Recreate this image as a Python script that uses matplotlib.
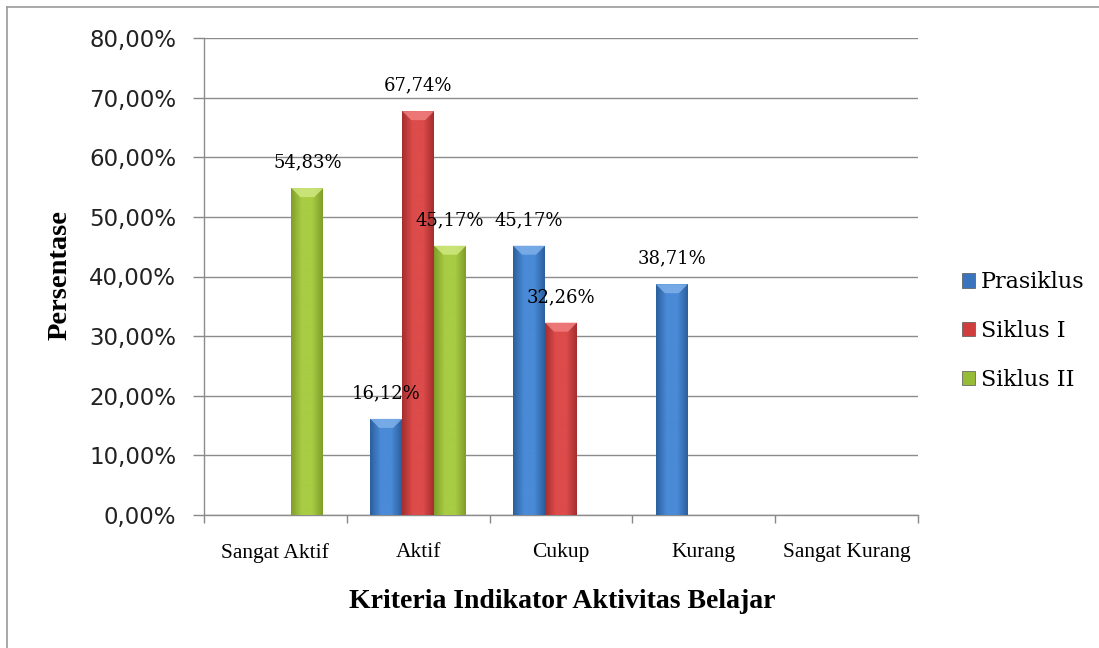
import numpy as np
import matplotlib
matplotlib.use("Agg")
import matplotlib.pyplot as plt
from matplotlib.lines import Line2D
from matplotlib.patches import Polygon
from matplotlib.colors import LinearSegmentedColormap

categories = ["Sangat Aktif", "Aktif", "Cukup", "Kurang", "Sangat Kurang"]
series = ["Prasiklus", "Siklus I", "Siklus II"]
prasiklus = [0, 16.12, 45.17, 38.71, 0]
siklus1 = [0, 67.74, 32.26, 0, 0]
siklus2 = [54.83, 45.17, 0, 0, 0]
values = [prasiklus, siklus1, siklus2]
yticks = [0, 10, 20, 30, 40, 50, 60, 70, 80]

# (edge, mid, highlight) colours for the cylinder-like gradient
palettes = [("#2b5f9e", "#4a8ad6", "#7fb0ea"),
            ("#a62e2e", "#dd4b4b", "#f08080"),
            ("#7f9e2a", "#a8cc44", "#cfe880")]
legend_cols = ["#3a74be", "#cf3d3d", "#96bb37"]

fig = plt.figure(figsize=(10.99, 6.48), dpi=100)
ax = fig.add_axes([204/1099, 1-515/648, (918-204)/1099, (515-38)/648])

serif = "Liberation Serif"
dserif = "DejaVu Serif"
n = len(series)
w = 0.224
x = np.arange(len(categories))
ax.set_xlim(-0.5, len(categories) - 0.5)
ax.set_ylim(0, 80)
# pixel -> data scale for the bevel
px_y = 80 / (515 - 38)
px_x = 5 / (918 - 204)
for i, (vals, (edge, mid, hi)) in enumerate(zip(values, palettes)):
    offs = (i - (n - 1) / 2) * w
    bars = ax.bar(x + offs, vals, width=w, color=mid, edgecolor="none", zorder=3)
    cmap = LinearSegmentedColormap.from_list("g", [edge, mid, mid, edge])
    grad = np.linspace(0, 1, 64).reshape(1, -1)
    for b, v in zip(bars, vals):
        if v <= 0:
            continue
        x0, y0 = b.get_x(), b.get_y()
        bw, bh = b.get_width(), b.get_height()
        im = ax.imshow(grad, cmap=cmap, extent=[x0, x0 + bw, y0, y0 + bh],
                       aspect="auto", zorder=4, interpolation="bilinear")
        im.set_clip_path(b)
        top = y0 + bh
        d = 9 * px_y
        inset = 9 * px_x
        ax.add_patch(Polygon([[x0, top], [x0 + bw, top], [x0 + bw - inset, top - d],
                              [x0 + inset, top - d]], closed=True,
                             facecolor=hi, edgecolor="none", alpha=0.85, zorder=5))
        ax.annotate(f"{v:.2f}%".replace(".", ","), (x0 + bw / 2, v),
                    xytext=(0, 12), textcoords="offset points",
                    ha="center", va="bottom", fontsize=13,
                    family=dserif, color="black", zorder=6)

ax.set_yticks(yticks)
ax.set_yticklabels([f"{t:.2f}%".replace(".", ",") for t in yticks],
                   fontsize=16.5, family="DejaVu Sans", color="#222222")
ax.set_xticks(x)
ax.set_xticklabels(categories, fontsize=15.5, family=serif)
ax.set_xticks(np.arange(-0.5, len(categories)), minor=True)
ax.tick_params(axis="x", which="major", length=0, pad=20)
ax.tick_params(axis="x", which="minor", length=6, color="#888888", width=1)
ax.tick_params(axis="y", length=8, color="#888888", width=1, pad=12)
ax.grid(axis="y", color="#8c8c8c", linewidth=1, zorder=0)
ax.set_axisbelow(True)
for s in ["top", "right"]:
    ax.spines[s].set_visible(False)
for s in ["left", "bottom"]:
    ax.spines[s].set_color("#8c8c8c")
    ax.spines[s].set_linewidth(1)

fig.text(60/1099, 1-275/648, "Persentase", rotation=90, ha="center", va="center",
         fontsize=20.5, fontweight="bold", family=serif)
fig.text(562/1099, 1-601/648, "Kriteria Indikator Aktivitas Belajar", ha="center",
         va="center", fontsize=20, fontweight="bold", family=serif)

handles = [plt.Rectangle((0, 0), 1, 1, facecolor=c, edgecolor="#555555", linewidth=0.5)
           for c in legend_cols]
fig.legend(handles, series, loc="center left", bbox_to_anchor=(942/1099, 1-331/648),
           frameon=False, prop={"family": dserif, "size": 16},
           handlelength=0.6, handleheight=0.6, handletextpad=0.25, labelspacing=1.2)

fig.add_artist(Line2D([7/1099, 1], [1-7/648, 1-7/648], color="#9a9a9a", linewidth=1.2))
fig.add_artist(Line2D([7/1099, 7/1099], [0, 1-7/648], color="#9a9a9a", linewidth=1.2))

fig.savefig("out.png", dpi=100)
